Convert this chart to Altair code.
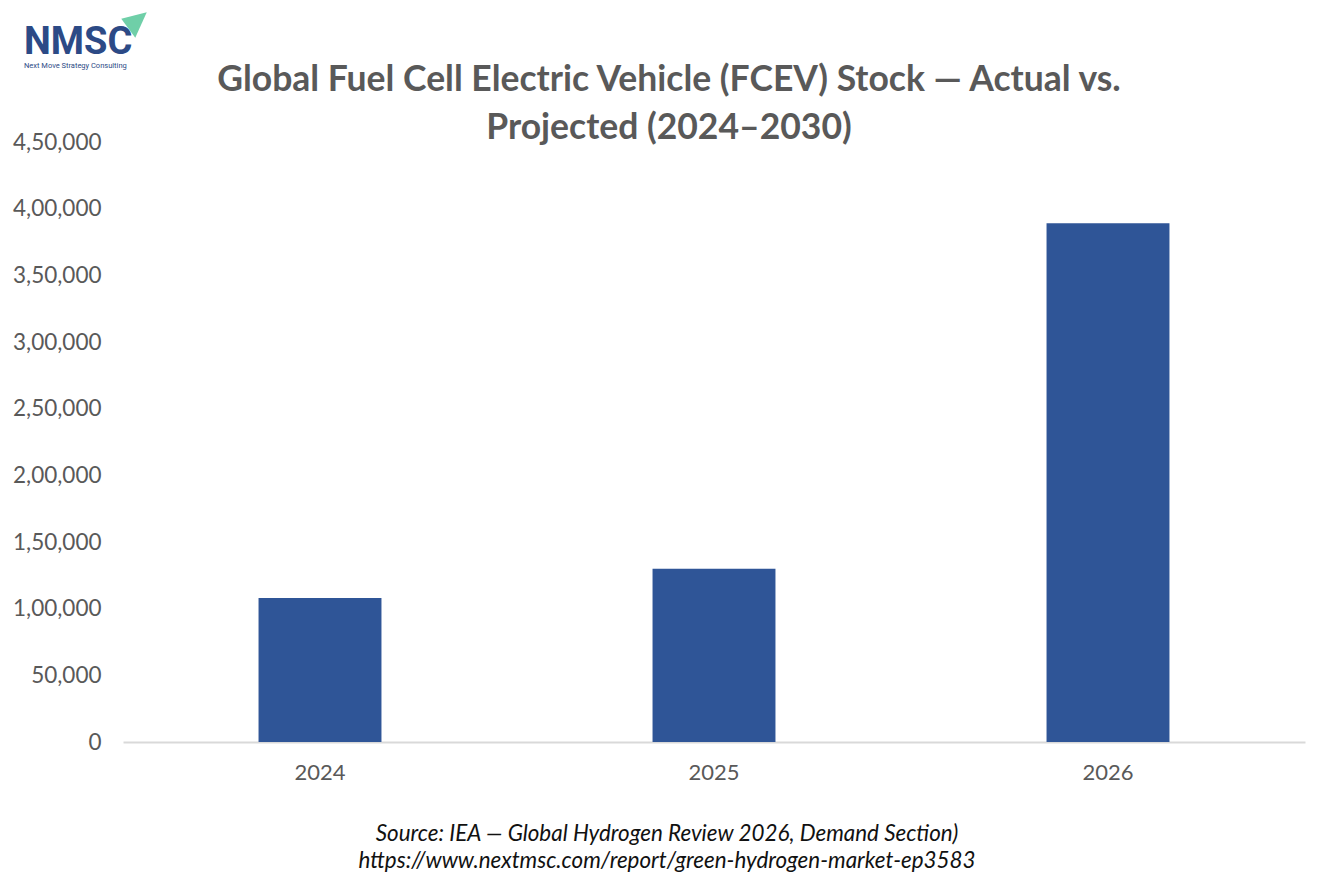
import altair as alt
import pandas as pd

years = ["2024", "2025", "2026"]
stock = [108000, 130000, 389000]
y_ticks = [0, 50000, 100000, 150000, 200000, 250000, 300000, 350000, 400000, 450000]

title_lines = ["Global Fuel Cell Electric Vehicle (FCEV) Stock — Actual vs.", "Projected (2024–2030)"]
source_lines = ["Source: IEA — Global Hydrogen Review 2026, Demand Section)",
                "https://www.nextmsc.com/report/green-hydrogen-market-ep3583"]
logo_text = "NMSC"
logo_sub = "Next Move Strategy Consulting"

W, H = 1182, 600
FONT = "Lato"
GREY = "#595959"

df = pd.DataFrame({"year": years, "stock": stock})

label_expr = ("datum.value >= 100000 ? format(floor(datum.value/100000),'d') + ',' + "
              "format(datum.value % 100000, '06,') : format(datum.value, ',')")

bars = alt.Chart(df).mark_bar(color="#2F5597").encode(
    x=alt.X("year:N", sort=years, title=None,
            scale=alt.Scale(paddingInner=0.688, paddingOuter=0.344),
            axis=alt.Axis(labelAngle=0, labelFont=FONT, labelFontSize=22, labelColor=GREY,
                          labelPadding=20, ticks=False, domainColor="#D9D9D9", domainWidth=2,
                          grid=False)),
    y=alt.Y("stock:Q", title=None,
            scale=alt.Scale(domain=[0, 450000], nice=False),
            axis=alt.Axis(values=y_ticks, labelExpr=label_expr, labelFont=FONT, labelFontSize=22.5,
                          labelColor=GREY, labelPadding=22, ticks=False, domain=False, grid=False)),
)

def text_layer(txt, x, y, **kw):
    return alt.Chart(pd.DataFrame({"t": [txt]})).mark_text(**kw).encode(
        x=alt.value(x), y=alt.value(y), text="t:N")

t1 = text_layer(title_lines[0], 546, -62, font=FONT, fontSize=35.5, fontWeight="bold",
                color=GREY, align="center", baseline="middle")
t2 = text_layer(title_lines[1], 546, -14, font=FONT, fontSize=35.5, fontWeight="bold",
                color=GREY, align="center", baseline="middle")
s1 = text_layer(source_lines[0], 544, 692, font=FONT, fontSize=22.4, fontStyle="italic",
                color="#111111", align="center", baseline="middle")
s2 = text_layer(source_lines[1], 544, 719, font=FONT, fontSize=22.4, fontStyle="italic",
                color="#111111", align="center", baseline="middle")
logo = text_layer(logo_text, -99, -88, font="Roboto", fontSize=38, fontWeight="bold",
                  color="#2C4A86", align="left", baseline="alphabetic")
logo2 = text_layer(logo_sub, -99, -76, font="Roboto", fontSize=7.5,
                   color="#2C4A86", align="left", baseline="middle")
tri = alt.Chart(pd.DataFrame({"t": [1]})).mark_point(
    shape="M-1,-0.5 L1,-1 L0.1,1 Z", filled=True, color="#6FCFA8", opacity=1, size=650
).encode(x=alt.value(11), y=alt.value(-117))

chart = alt.layer(bars, t1, t2, s1, s2, logo, logo2, tri).properties(
    width=W, height=H,
    autosize=alt.AutoSizeParams(type="none"),
    padding={"left": 115, "top": 134, "right": 21, "bottom": 139},
    background="white",
).configure_view(stroke=None)

chart.save("out.html", embed_options={"renderer": "svg", "actions": False})
